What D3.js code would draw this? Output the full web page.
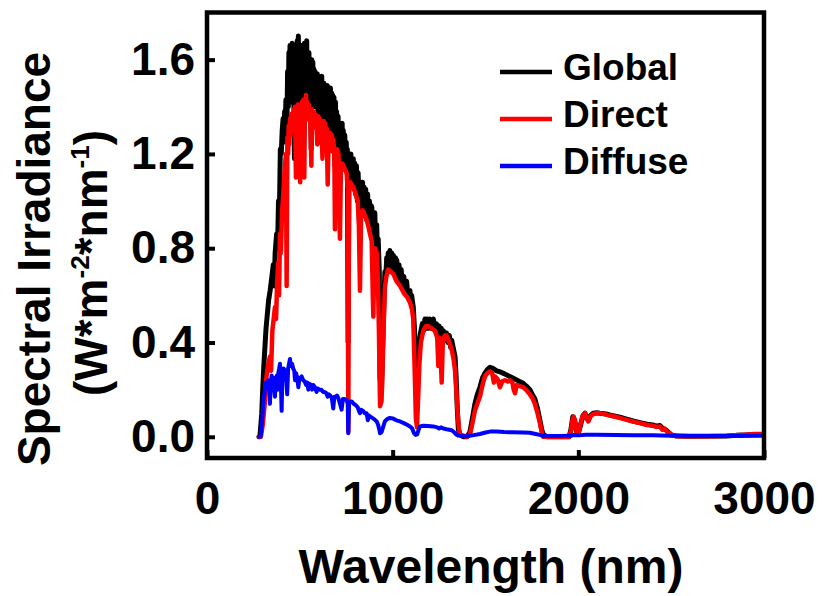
<!DOCTYPE html>
<html>
<head>
<meta charset="utf-8">
<script src="https://cdn.jsdelivr.net/npm/d3@7"></script>
<style>
  body { margin: 0; background: #fff; }
  svg { font-family: "Liberation Sans", Arial, sans-serif; font-weight: bold; }
</style>
</head>
<body>
<div id="chart"></div>
<script>
// AM1.5 spectrum: [wavelength nm, W*m-2*nm-1]
const globalData = [[280,0],[285,0],[295,0.1],[300,0.2],[306,0.3],[312,0.38],[318,0.46],[325,0.52],[332,0.58],[340,0.62],[348,0.67],[357,0.73],[362,0.64],[367,0.78],[375,0.86],[380,0.8],[385,1.0],[390,0.95],[395,1.22],[400,1.2],[405,1.3],[410,1.35],[414,1.25],[418,1.38],[421,1.3],[425,1.43],[430,1.28],[434,1.55],[438,1.40],[441,1.63],[444,1.45],[447,1.66],[450,1.42],[453,1.62],[456,1.48],[459,1.67],[462,1.44],[465,1.64],[468,1.40],[471,1.18],[474,1.66],[477,1.45],[480,1.63],[483,1.42],[486,1.68],[489,1.5],[492,1.70],[495,1.46],[498,1.62],[501,1.2],[504,1.64],[507,1.45],[510,1.66],[513,1.48],[516,1.62],[519,1.42],[522,1.58],[525,1.67],[528,1.44],[531,1.64],[534,1.47],[537,1.68],[540,1.45],[543,1.62],[546,1.44],[549,1.63],[552,1.46],[555,1.58],[558,1.40],[561,1.22],[564,1.6],[567,1.43],[570,1.59],[573,1.42],[576,1.56],[579,1.42],[582,1.55],[585,1.40],[588,1.53],[591,1.4],[594,1.54],[597,1.38],[600,1.52],[603,1.38],[606,1.51],[609,1.25],[612,1.52],[615,1.38],[618,1.53],[621,1.36],[624,1.5],[627,1.36],[630,1.5],[633,1.35],[636,1.49],[639,1.34],[642,1.48],[645,1.33],[648,1.49],[652,1.32],[656,1.4],[659,1.47],[662,1.32],[665,1.48],[668,1.3],[671,1.46],[674,1.3],[677,1.45],[680,1.28],[684,1.44],[687,1.25],[689,1.15],[692,1.42],[695,1.26],[698,1.38],[702,1.24],[706,1.36],[710,1.2],[714,1.28],[717,1.12],[720,1.25],[724,1.16],[728,1.33],[731,1.18],[734,1.30],[738,1.16],[742,1.28],[746,1.14],[750,1.25],[753,1.12],[756,1.22],[760,0.4],[765,1.2],[770,1.08],[775,1.2],[780,1.08],[788,1.18],[792,1.05],[796,1.16],[800,1.03],[805,1.15],[810,1.0],[814,1.12],[818,1.0],[824,0.82],[830,1.08],[834,0.97],[838,1.08],[842,0.96],[846,1.06],[850,0.94],[855,1.05],[860,0.92],[865,1.03],[870,0.9],[875,1.0],[880,0.87],[885,0.98],[888,0.97],[892,0.8],[896,0.7],[900,0.85],[904,0.95],[908,0.8],[914,0.9],[918,0.78],[922,0.84],[928,0.7],[932,0.25],[940,0.2],[946,0.38],[952,0.55],[958,0.7],[963,0.68],[968,0.76],[972,0.7],[976,0.78],[980,0.72],[985,0.79],[990,0.72],[995,0.78],[1000,0.71],[1004,0.77],[1009,0.7],[1015,0.76],[1019,0.69],[1022,0.75],[1028,0.68],[1034,0.73],[1040,0.66],[1046,0.71],[1052,0.64],[1060,0.68],[1066,0.62],[1075,0.66],[1082,0.6],[1093,0.62],[1098,0.57],[1102,0.6],[1111,0.55],[1118,0.45],[1124,0.32],[1132,0.3],[1140,0.38],[1150,0.44],[1160,0.48],[1166,0.45],[1174,0.5],[1180,0.46],[1186,0.5],[1192,0.46],[1200,0.5],[1208,0.46],[1219,0.5],[1228,0.45],[1235,0.48],[1242,0.43],[1250,0.47],[1258,0.43],[1262,0.46],[1268,0.42],[1273,0.45],[1282,0.41],[1290,0.44],[1298,0.4],[1305,0.43],[1312,0.38],[1318,0.41],[1328,0.37],[1336,0.34],[1342,0.25],[1348,0.12],[1354,0.03],[1362,0.01],[1380,0],[1400,0],[1416,0.02],[1430,0.08],[1443,0.14],[1456,0.18],[1470,0.21],[1484,0.25],[1497,0.27],[1510,0.285],[1524,0.295],[1540,0.29],[1560,0.28],[1580,0.275],[1600,0.268],[1625,0.258],[1650,0.248],[1675,0.238],[1700,0.228],[1720,0.215],[1739,0.2],[1752,0.18],[1766,0.16],[1780,0.12],[1793,0.07],[1803,0.03],[1811,0.01],[1830,0],[1950,0],[1960,0.03],[1970,0.085],[1980,0.07],[1992,0.02],[2000,0.015],[2012,0.05],[2025,0.09],[2036,0.1],[2045,0.08],[2054,0.07],[2065,0.09],[2080,0.1],[2100,0.102],[2116,0.1],[2150,0.097],[2180,0.09],[2224,0.083],[2260,0.075],[2300,0.066],[2332,0.06],[2370,0.053],[2400,0.05],[2420,0.045],[2439,0.048],[2455,0.035],[2470,0.03],[2485,0.02],[2500,0.008],[2530,0.003],[2600,0.002],[2800,0.003],[2850,0.006],[2900,0.008],[2950,0.01],[3000,0.01]];

const directData = [[280,0],[290,0],[300,0.05],[312,0.15],[318,0.24],[328,0.3],[339,0.34],[345,0.28],[352,0.45],[359,0.5],[366,0.55],[372,0.5],[378,0.66],[384,0.74],[388,0.6],[393,0.86],[398,0.78],[404,0.95],[411,1.03],[416,1.1],[420,1.15],[425,1.2],[429,0.64],[433,1.27],[437,1.2],[440,1.32],[443,1.24],[447,1.35],[451,1.28],[455,1.37],[458,1.3],[462,1.36],[465,1.3],[468,1.39],[471,1.32],[474,1.40],[479,1.1],[483,1.39],[486,1.33],[490,1.41],[493,1.34],[497,1.38],[502,1.08],[506,1.4],[509,1.34],[512,1.42],[515,1.36],[519,1.43],[524,1.1],[528,1.43],[530,1.37],[533,1.45],[536,1.38],[540,1.42],[544,1.35],[548,1.41],[552,1.34],[556,1.39],[562,1.15],[566,1.39],[569,1.33],[572,1.38],[576,1.32],[580,1.37],[584,1.31],[588,1.36],[594,1.24],[600,1.36],[604,1.3],[608,1.35],[612,1.29],[616,1.34],[622,1.18],[628,1.34],[632,1.28],[636,1.33],[640,1.27],[645,1.31],[650,1.07],[656,1.29],[660,1.23],[664,1.29],[668,1.22],[672,1.28],[676,1.21],[680,1.26],[686,1.2],[689,0.88],[693,1.2],[700,1.22],[708,1.2],[712,1.0],[716,0.84],[721,1.12],[728,1.16],[736,1.15],[745,1.13],[752,1.12],[758,1.05],[761,0.02],[765,1.05],[772,1.08],[780,1.07],[788,1.06],[800,1.03],[812,1.0],[818,0.9],[824,0.62],[830,0.95],[840,0.96],[850,0.94],[860,0.92],[870,0.89],[878,0.86],[887,0.83],[893,0.6],[896,0.51],[900,0.72],[906,0.8],[914,0.78],[920,0.68],[926,0.45],[932,0.13],[940,0.15],[946,0.3],[952,0.48],[958,0.63],[966,0.68],[976,0.71],[990,0.7],[1004,0.69],[1020,0.66],[1040,0.64],[1060,0.61],[1080,0.59],[1093,0.57],[1104,0.54],[1111,0.5],[1118,0.3],[1125,0.08],[1131,0.04],[1138,0.18],[1144,0.31],[1152,0.4],[1165,0.45],[1180,0.47],[1192,0.47],[1210,0.46],[1228,0.45],[1240,0.42],[1246,0.3],[1252,0.42],[1258,0.36],[1264,0.23],[1270,0.4],[1280,0.43],[1291,0.43],[1305,0.4],[1318,0.37],[1328,0.33],[1336,0.28],[1344,0.18],[1350,0.1],[1356,0.04],[1362,0.01],[1400,0],[1416,0.01],[1430,0.06],[1443,0.11],[1456,0.14],[1470,0.17],[1484,0.22],[1497,0.256],[1510,0.27],[1524,0.277],[1536,0.27],[1545,0.23],[1551,0.256],[1565,0.245],[1578,0.21],[1590,0.235],[1605,0.24],[1620,0.235],[1632,0.24],[1645,0.23],[1652,0.2],[1659,0.185],[1668,0.22],[1685,0.215],[1704,0.21],[1720,0.198],[1739,0.18],[1752,0.165],[1766,0.14],[1780,0.1],[1793,0.06],[1803,0.02],[1811,0],[1950,0],[1960,0.025],[1968,0.07],[1975,0.086],[1984,0.06],[1992,0.015],[1999,0.01],[2008,0.04],[2020,0.08],[2030,0.095],[2036,0.1],[2046,0.075],[2054,0.065],[2064,0.085],[2080,0.097],[2100,0.1],[2116,0.1],[2140,0.096],[2170,0.09],[2200,0.085],[2224,0.08],[2260,0.072],[2300,0.064],[2332,0.058],[2370,0.05],[2400,0.047],[2420,0.042],[2439,0.044],[2452,0.03],[2465,0.035],[2480,0.02],[2493,0.015],[2510,0.005],[2540,0.002],[2700,0.002],[2800,0.004],[2850,0.007],[2900,0.009],[2950,0.012],[3000,0.012]];

const diffuseData = [[280,0],[285,0],[290,0.005],[298,0.08],[305,0.16],[312,0.2],[318,0.23],[324,0.21],[330,0.24],[335,0.19],[339,0.14],[343,0.22],[348,0.26],[353,0.21],[358,0.25],[362,0.2],[366,0.17],[370,0.24],[376,0.26],[380,0.2],[384,0.27],[389,0.29],[393,0.31],[397,0.25],[402,0.11],[406,0.26],[412,0.29],[420,0.28],[426,0.25],[432,0.18],[437,0.29],[442,0.31],[447,0.33],[452,0.3],[458,0.31],[464,0.29],[470,0.28],[474,0.24],[480,0.27],[486,0.25],[492,0.21],[498,0.25],[504,0.25],[510,0.256],[518,0.24],[526,0.235],[534,0.22],[540,0.23],[546,0.2],[552,0.225],[560,0.22],[566,0.2],[572,0.22],[582,0.21],[590,0.19],[596,0.205],[606,0.2],[616,0.2],[626,0.19],[634,0.19],[642,0.185],[650,0.17],[656,0.18],[664,0.175],[672,0.165],[680,0.12],[686,0.17],[694,0.17],[700,0.175],[707,0.165],[716,0.14],[725,0.115],[732,0.16],[740,0.16],[752,0.155],[758,0.14],[761,0.015],[765,0.14],[772,0.15],[779,0.15],[790,0.14],[800,0.135],[812,0.125],[818,0.11],[824,0.1],[830,0.115],[840,0.11],[850,0.1],[860,0.1],[866,0.07],[872,0.09],[878,0.086],[890,0.08],[900,0.075],[914,0.065],[922,0.05],[928,0.03],[932,0.015],[940,0.02],[948,0.04],[958,0.065],[970,0.075],[985,0.08],[1000,0.078],[1020,0.07],[1040,0.065],[1060,0.058],[1080,0.05],[1093,0.044],[1105,0.035],[1115,0.015],[1124,0.008],[1132,0.01],[1140,0.03],[1147,0.044],[1165,0.047],[1190,0.046],[1219,0.044],[1240,0.04],[1250,0.035],[1260,0.04],[1273,0.035],[1290,0.032],[1305,0.03],[1318,0.028],[1330,0.02],[1342,0.01],[1354,0.005],[1380,0.002],[1400,0.002],[1430,0.006],[1470,0.012],[1500,0.018],[1524,0.022],[1560,0.022],[1600,0.02],[1650,0.019],[1700,0.018],[1739,0.017],[1770,0.012],[1793,0.008],[1811,0.003],[1900,0.003],[1960,0.004],[1975,0.008],[2000,0.006],[2040,0.009],[2100,0.009],[2200,0.008],[2300,0.007],[2400,0.006],[2500,0.004],[2600,0.003],[2800,0.003],[3000,0.004]];

const seriesNames = ["Global", "Direct", "Diffuse"];
const seriesColors = ["#000000", "#ff0000", "#0000ff"];
const xTicks = [0, 1000, 2000, 3000];
const yTicks = [0, 0.4, 0.8, 1.2, 1.6];

const width = 822, height = 596;
const plot = { left: 207, right: 764, top: 12.5, bottom: 458 };

const svg = d3.select("#chart").append("svg")
  .attr("width", width)
  .attr("height", height);

const x = d3.scaleLinear().domain([0, 3000]).range([plot.left, plot.right]);
const y = d3.scaleLinear().domain([-0.09, 1.8]).range([plot.bottom, plot.top]);

svg.append("clipPath").attr("id", "plot-clip")
  .append("rect")
  .attr("x", plot.left).attr("y", plot.top)
  .attr("width", plot.right - plot.left).attr("height", plot.bottom - plot.top);

const line = d3.line()
  .x(d => x(d[0]))
  .y(d => y(d[1]));

// series lines, drawn in legend order so blue ends on top
const series = [globalData, directData, diffuseData];
svg.append("g")
  .attr("clip-path", "url(#plot-clip)")
  .selectAll("path")
  .data(series)
  .join("path")
    .attr("d", line)
    .attr("fill", "none")
    .attr("stroke", (d, i) => seriesColors[i])
    .attr("stroke-width", (d, i) => [5, 4.5, 4][i])
    .attr("stroke-linejoin", "round")
    .attr("stroke-linecap", "round");

// axes (ticks point inward)
const xAxis = svg.append("g")
  .attr("transform", `translate(0,${plot.bottom})`)
  .call(d3.axisBottom(x).tickValues(xTicks).tickFormat(d3.format("d"))
    .tickSizeInner(-8).tickSizeOuter(0).tickPadding(23));

const yAxis = svg.append("g")
  .attr("transform", `translate(${plot.left},0)`)
  .call(d3.axisLeft(y).tickValues(yTicks).tickFormat(d3.format(".1f"))
    .tickSizeInner(-8).tickSizeOuter(0).tickPadding(12));

for (const ax of [xAxis, yAxis]) {
  ax.select(".domain").remove();
  ax.selectAll("line").attr("stroke", "#000").attr("stroke-width", 4);
  ax.selectAll("text")
    .attr("fill", "#000")
    .style("font-size", "46px")
    .style("font-weight", "bold");
}

// frame
svg.append("rect")
  .attr("x", plot.left).attr("y", plot.top)
  .attr("width", plot.right - plot.left).attr("height", plot.bottom - plot.top)
  .attr("fill", "none")
  .attr("stroke", "#000")
  .attr("stroke-width", 4.5);

// axis titles
svg.append("text")
  .attr("x", 491)
  .attr("y", 583)
  .attr("text-anchor", "middle")
  .style("font-size", "48px")
  .text("Wavelength (nm)");

const yTitle = svg.append("text")
  .attr("transform", "rotate(-90)")
  .attr("text-anchor", "middle")
  .style("font-size", "46px");

yTitle.append("tspan")
  .attr("x", -259).attr("y", 50)
  .text("Spectral Irradiance");

const line2 = yTitle.append("tspan")
  .attr("x", -263).attr("y", 107);
line2.append("tspan").text("(W*m");
line2.append("tspan").attr("dy", -18).style("font-size", "26px").text("-2");
line2.append("tspan").attr("dy", 18).text("*nm");
line2.append("tspan").attr("dy", -18).style("font-size", "26px").text("-1");
line2.append("tspan").attr("dy", 18).text(")");

// legend
const legend = svg.append("g")
  .selectAll("g")
  .data(seriesNames)
  .join("g")
    .attr("transform", (d, i) => `translate(500,${72 + i * 47})`);

legend.append("line")
  .attr("x1", 0).attr("x2", 52)
  .attr("stroke", (d, i) => seriesColors[i])
  .attr("stroke-width", 4.5);

legend.append("text")
  .attr("x", 63)
  .attr("y", 8)
  .style("font-size", "37px")
  .text(d => d);
</script>
</body>
</html>
